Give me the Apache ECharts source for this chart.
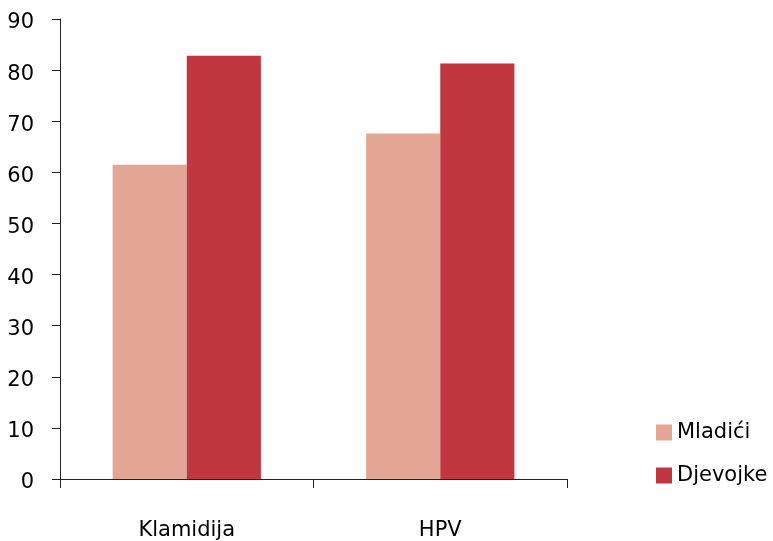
<!DOCTYPE html>
<html>
<head>
<meta charset="utf-8">
<script src="https://cdn.jsdelivr.net/npm/echarts@6/dist/echarts.min.js"></script>
<style>
html,body{margin:0;padding:0;background:#fff;}
#chart{width:773px;height:541px;}
</style>
</head>
<body>
<div id="chart"></div>
<script>
const categories = ['Klamidija', 'HPV'];
const seriesNames = ['Mladići', 'Djevojke'];
const mladici = [61.5, 67.6];
const djevojke = [82.8, 81.3];
const yTicks = { min: 0, max: 90, interval: 10 };

const chart = echarts.init(document.getElementById('chart'), null, { renderer: 'canvas' });
const font = '"DejaVu Sans", sans-serif';
chart.setOption({
  animation: false,
  backgroundColor: '#ffffff',
  textStyle: { fontFamily: font },
  grid: { left: 60, right: 206, top: 19, bottom: 59, containLabel: false },
  legend: {
    orient: 'vertical',
    left: 651,
    top: 417,
    itemWidth: 16,
    itemHeight: 16,
    itemGap: 22,
    icon: 'rect',
    textStyle: { fontSize: 21, color: '#000', fontFamily: font },
    data: seriesNames
  },
  xAxis: {
    type: 'category',
    data: categories,
    axisLine: { lineStyle: { color: '#222', width: 1 } },
    axisTick: { show: true, length: 9, lineStyle: { color: '#222' } },
    axisLabel: { fontSize: 21, color: '#000', margin: 41, fontFamily: font }
  },
  yAxis: {
    type: 'value',
    min: yTicks.min, max: yTicks.max, interval: yTicks.interval,
    splitLine: { show: false },
    axisLine: { show: true, lineStyle: { color: '#222', width: 1 } },
    axisTick: { show: true, length: 8, lineStyle: { color: '#222' } },
    axisLabel: {
      fontSize: 21, color: '#000', margin: 26, fontFamily: font,
      formatter: '{a|{value}}',
      rich: { a: { fontSize: 21, color: '#000', fontFamily: font, padding: [8, 0, 0, 0] } }
    }
  },
  series: [
    { name: seriesNames[0], type: 'bar', data: mladici, itemStyle: { color: '#E4A694' }, barGap: '0%', barCategoryGap: '41.5%' },
    { name: seriesNames[1], type: 'bar', data: djevojke, itemStyle: { color: '#C1373F' }, barGap: '0%', barCategoryGap: '41.5%' }
  ]
});
</script>
</body>
</html>
